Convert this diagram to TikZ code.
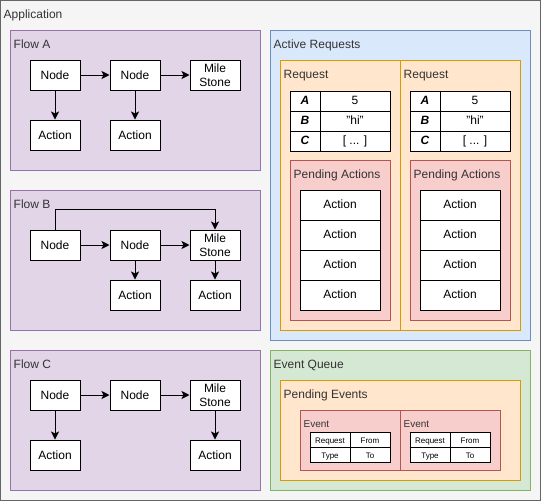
\documentclass[tikz,border=0pt]{standalone}
\usepackage{fontspec}
\setmainfont{Liberation Sans}
\usepackage{tikz}
\usetikzlibrary{arrows.meta}
\definecolor{appfill}{HTML}{F5F5F5}
\definecolor{appline}{HTML}{666666}
\definecolor{flowfill}{HTML}{E1D5E7}
\definecolor{flowline}{HTML}{9673A6}
\definecolor{activefill}{HTML}{DAE8FC}
\definecolor{activeline}{HTML}{6C8EBF}
\definecolor{reqfill}{HTML}{FFE6CC}
\definecolor{reqline}{HTML}{D79B00}
\definecolor{pendfill}{HTML}{F8CECC}
\definecolor{pendline}{HTML}{B85450}
\definecolor{queuefill}{HTML}{D5E8D4}
\definecolor{queueline}{HTML}{82B366}

\begin{document}
\begin{tikzpicture}[x=1pt,y=-1pt,
        group/.style={draw,line width=1pt,anchor=north west,inner sep=0pt},
        title/.style={anchor=base west,inner sep=0pt,text=black!80,font=\fontsize{12}{14}\selectfont},
        box/.style={draw,fill=white,line width=1pt,inner sep=0pt,minimum width=50pt,minimum height=30pt,
          align=center,font=\fontsize{12}{14}\selectfont},
        cell/.style={draw,fill=white,line width=1pt,inner sep=0pt,minimum height=20pt,
          text height=0.7em,text depth=0.04em,font=\fontsize{12}{14}\selectfont},
        small cell/.style={draw,fill=white,line width=1pt,inner sep=0pt,minimum width=40pt,minimum height=15pt,
          text height=0.7em,text depth=0.04em,font=\fontsize{8}{9}\selectfont},
        arrow/.style={draw,line width=1pt,-{Stealth[length=8pt,width=8pt,inset=2pt]}}
      ]
      \useasboundingbox (0,0) rectangle (541,501);
      % containers
      \node[group,fill=appfill,draw=appline,minimum width=540pt,minimum height=500pt] (app) at (0,0) {};
      \node[title] (applbl) at (3.5,18.5) {Application};
      \node[group,fill=flowfill,draw=flowline,minimum width=250pt,minimum height=140pt] (flowA) at (10,30) {};
      \node[title] (flowAlbl) at (13.5,48.5) {Flow A};
      \node[group,fill=flowfill,draw=flowline,minimum width=250pt,minimum height=140pt] (flowB) at (10,190) {};
      \node[title] (flowBlbl) at (13.5,208.5) {Flow B};
      \node[group,fill=flowfill,draw=flowline,minimum width=250pt,minimum height=140pt] (flowC) at (10,350) {};
      \node[title] (flowClbl) at (13.5,368.5) {Flow C};
      \node[group,fill=activefill,draw=activeline,minimum width=260pt,minimum height=310pt] (active) at (270,30) {};
      \node[title] (activelbl) at (273.5,48.5) {Active Requests};
      \node[group,fill=queuefill,draw=queueline,minimum width=260pt,minimum height=140pt] (queue) at (270,350) {};
      \node[title] (queuelbl) at (273.5,368.5) {Event Queue};
      \node[group,fill=reqfill,draw=reqline,minimum width=240pt,minimum height=100pt] (pendev) at (280,380) {};
      \node[title] (pendevlbl) at (283.5,398.5) {Pending Events};

      % Flow A
      \node[box] (a1) at (55,75)   {Node};
      \node[box] (a2) at (135,75)  {Node};
      \node[box] (a3) at (215,75)  {Mile\\Stone};
      \node[box] (a4) at (55,135)  {Action};
      \node[box] (a5) at (135,135) {Action};
      \path[arrow] (a1) edge (a2) (a2) edge (a3) (a1) edge (a4) (a2) edge (a5);

      % Flow B
      \node[box] (b1) at (55,245)  {Node};
      \node[box] (b2) at (135,245) {Node};
      \node[box] (b3) at (215,245) {Mile\\Stone};
      \node[box] (b4) at (135,295) {Action};
      \node[box] (b5) at (215,295) {Action};
      \path[arrow] (b1) edge (b2) (b2) edge (b3) (b2) edge (b4) (b3) edge (b5);
      \draw[arrow] (b1.north) -- ++(0,-20) -| (b3.north);

      % Flow C
      \node[box] (c1) at (55,395)  {Node};
      \node[box] (c2) at (135,395) {Node};
      \node[box] (c3) at (215,395) {Mile\\Stone};
      \node[box] (c4) at (55,455)  {Action};
      \node[box] (c5) at (215,455) {Action};
      \path[arrow] (c1) edge (c2) (c2) edge (c3) (c1) edge (c4) (c3) edge (c5);

      % requests
      \foreach \i/\dx in {1/0,2/120} {
        \node[group,fill=reqfill,draw=reqline,minimum width=120pt,minimum height=270pt] (req\i) at (280+\dx,60) {};
        \node[title] (req\i lbl) at (283.5+\dx,78.5) {Request};
        \node[cell,minimum width=30pt,font=\fontsize{12}{14}\bfseries\itshape] (keyA\i) at (305+\dx,101) {A};
        \node[cell,minimum width=30pt,font=\fontsize{12}{14}\bfseries\itshape] (keyB\i) at (305+\dx,121) {B};
        \node[cell,minimum width=30pt,font=\fontsize{12}{14}\bfseries\itshape] (keyC\i) at (305+\dx,141) {C};
        \node[cell,minimum width=70pt] (valA\i) at (355+\dx,101) {5};
        \node[cell,minimum width=70pt] (valB\i) at (355+\dx,121) {"hi"};
        \node[cell,minimum width=70pt] (valC\i) at (355+\dx,141) {[ ... ]};
        \node[group,fill=pendfill,draw=pendline,minimum width=100pt,minimum height=160pt] (pend\i) at (290+\dx,160) {};
        \node[title] (pend\i lbl) at (293.5+\dx,178.5) {Pending Actions};
        \foreach \j/\y in {1/205,2/235,3/265,4/295}
          \node[cell,minimum width=80pt,minimum height=30pt] (act\i\j) at (340+\dx,\y) {Action};
      }

      % events
      \foreach \i/\dx in {1/0,2/100} {
        \node[group,fill=pendfill,draw=pendline,minimum width=100pt,minimum height=60pt] (ev\i) at (300+\dx,410) {};
        \node[title,font=\fontsize{10}{12}\selectfont] (ev\i lbl) at (303.5+\dx,427) {Event};
        \node[small cell] (evreq\i)  at (330+\dx,440) {Request};
        \node[small cell] (evfrom\i) at (370+\dx,440) {From};
        \node[small cell] (evtype\i) at (330+\dx,455) {Type};
        \node[small cell] (evto\i)   at (370+\dx,455) {To};
      }
    \end{tikzpicture}
\end{document}
